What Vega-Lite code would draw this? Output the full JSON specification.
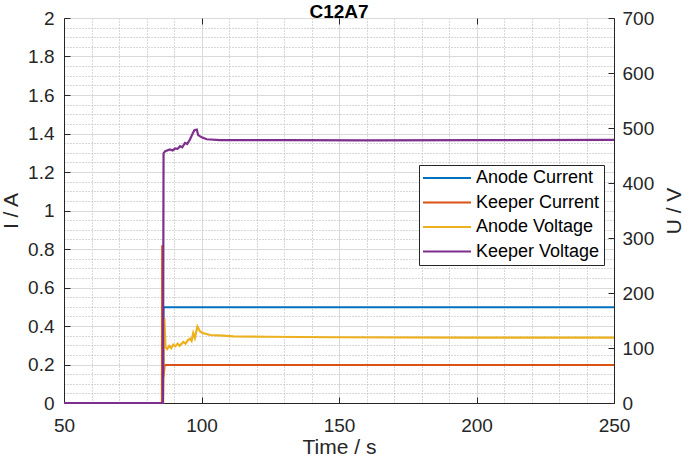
{
  "$schema": "https://vega.github.io/schema/vega-lite/v6.json",
  "width": 550,
  "height": 385,
  "autosize": {"type": "none"},
  "padding": {"left": 64, "top": 18, "right": 71, "bottom": 58},
  "background": "white",
  "title": {"text": "C12A7", "font": "Liberation Sans", "fontSize": 19, "fontWeight": "bold", "color": "#000000", "offset": -13, "frame": "group", "anchor": "middle"},
  "config": {
    "font": "Liberation Sans",
    "view": {"stroke": "#262626", "strokeWidth": 1},
    "axis": {
      "labelFont": "Liberation Sans",
      "labelFontSize": 19,
      "labelColor": "#262626",
      "titleFont": "Liberation Sans",
      "titleFontSize": 21,
      "titleFontWeight": "normal",
      "titleColor": "#262626",
      "domainColor": "#262626",
      "tickColor": "#262626",
      "labelOverlap": false,
      "labelFlush": false
    },
    "legend": {
      "orient": "none",
      "legendX": 355,
      "legendY": 147,
      "title": null,
      "labelFont": "Liberation Sans",
      "labelFontSize": 18,
      "labelColor": "#000000",
      "strokeColor": "#262626",
      "fillColor": "#ffffff",
      "padding": 4,
      "rowPadding": 6.5,
      "symbolType": "M-1.8,0H7.8",
      "symbolSize": 100,
      "symbolStrokeWidth": 2,
      "labelOffset": 35
    }
  },
  "data": {
    "values": [
      {"t": 50, "s": "Anode Current", "v": 0},
      {"t": 86.0, "s": "Anode Current", "v": 0},
      {"t": 86.2, "s": "Anode Current", "v": 0.497},
      {"t": 120, "s": "Anode Current", "v": 0.498},
      {"t": 170, "s": "Anode Current", "v": 0.497},
      {"t": 250, "s": "Anode Current", "v": 0.497},
      {"t": 50, "s": "Keeper Current", "v": 0},
      {"t": 85.6, "s": "Keeper Current", "v": 0},
      {"t": 85.7, "s": "Keeper Current", "v": 0.82},
      {"t": 86.2, "s": "Keeper Current", "v": 0.135},
      {"t": 86.6, "s": "Keeper Current", "v": 0.197},
      {"t": 150, "s": "Keeper Current", "v": 0.197},
      {"t": 250, "s": "Keeper Current", "v": 0.197},
      {"t": 50, "s": "Anode Voltage", "v": 0},
      {"t": 86.0, "s": "Anode Voltage", "v": 0},
      {"t": 86.2, "s": "Anode Voltage", "v": 100},
      {"t": 86.5, "s": "Anode Voltage", "v": 154},
      {"t": 86.9, "s": "Anode Voltage", "v": 102},
      {"t": 87.5, "s": "Anode Voltage", "v": 98},
      {"t": 88.3, "s": "Anode Voltage", "v": 104},
      {"t": 89, "s": "Anode Voltage", "v": 100},
      {"t": 89.7, "s": "Anode Voltage", "v": 106},
      {"t": 90.5, "s": "Anode Voltage", "v": 103},
      {"t": 91.3, "s": "Anode Voltage", "v": 108},
      {"t": 92, "s": "Anode Voltage", "v": 104},
      {"t": 93.4, "s": "Anode Voltage", "v": 111},
      {"t": 94.2, "s": "Anode Voltage", "v": 108},
      {"t": 95, "s": "Anode Voltage", "v": 114},
      {"t": 95.8, "s": "Anode Voltage", "v": 117},
      {"t": 96.4, "s": "Anode Voltage", "v": 113},
      {"t": 97, "s": "Anode Voltage", "v": 127},
      {"t": 97.6, "s": "Anode Voltage", "v": 118},
      {"t": 98.5, "s": "Anode Voltage", "v": 139},
      {"t": 99.5, "s": "Anode Voltage", "v": 130},
      {"t": 100.5, "s": "Anode Voltage", "v": 127},
      {"t": 101.9, "s": "Anode Voltage", "v": 125.5},
      {"t": 103.1, "s": "Anode Voltage", "v": 123.6},
      {"t": 107.9, "s": "Anode Voltage", "v": 122.4},
      {"t": 111.6, "s": "Anode Voltage", "v": 121.2},
      {"t": 123.7, "s": "Anode Voltage", "v": 120.5},
      {"t": 147.8, "s": "Anode Voltage", "v": 119.5},
      {"t": 196.4, "s": "Anode Voltage", "v": 118.8},
      {"t": 250, "s": "Anode Voltage", "v": 118.8},
      {"t": 50, "s": "Keeper Voltage", "v": 0},
      {"t": 86.0, "s": "Keeper Voltage", "v": 0},
      {"t": 86.2, "s": "Keeper Voltage", "v": 454},
      {"t": 86.8, "s": "Keeper Voltage", "v": 458},
      {"t": 88.5, "s": "Keeper Voltage", "v": 461},
      {"t": 89.5, "s": "Keeper Voltage", "v": 459},
      {"t": 90.4, "s": "Keeper Voltage", "v": 463},
      {"t": 91.3, "s": "Keeper Voltage", "v": 462},
      {"t": 92.2, "s": "Keeper Voltage", "v": 467},
      {"t": 93, "s": "Keeper Voltage", "v": 465},
      {"t": 94, "s": "Keeper Voltage", "v": 473},
      {"t": 94.8, "s": "Keeper Voltage", "v": 471},
      {"t": 95.8, "s": "Keeper Voltage", "v": 479},
      {"t": 96.8, "s": "Keeper Voltage", "v": 490},
      {"t": 97.4, "s": "Keeper Voltage", "v": 496},
      {"t": 98.3, "s": "Keeper Voltage", "v": 497},
      {"t": 98.8, "s": "Keeper Voltage", "v": 487},
      {"t": 100.1, "s": "Keeper Voltage", "v": 483},
      {"t": 101.9, "s": "Keeper Voltage", "v": 479.5},
      {"t": 106.7, "s": "Keeper Voltage", "v": 478},
      {"t": 130, "s": "Keeper Voltage", "v": 478},
      {"t": 160, "s": "Keeper Voltage", "v": 477.5},
      {"t": 200, "s": "Keeper Voltage", "v": 478},
      {"t": 250, "s": "Keeper Voltage", "v": 478.5}
    ]
  },
  "layer": [
    {
      "transform": [{"filter": "datum.s === 'Anode Current' || datum.s === 'Keeper Current'"}],
      "mark": {"type": "line", "strokeWidth": 2},
      "encoding": {
        "x": {
          "field": "t", "type": "quantitative",
          "scale": {"domain": [50, 250], "nice": false, "zero": false},
          "axis": {
            "orient": "bottom",
            "title": "Time / s",
            "values": [50,60,70,80,90,100,110,120,130,140,150,160,170,180,190,200,210,220,230,240,250],
            "labelExpr": "datum.value % 50 === 0 ? datum.label : ''",
            "grid": true,
            "gridColor": {"condition": {"test": "datum.value % 50 === 0", "value": "#dadada"}, "value": "#b0b0b0"},
            "gridDash": {"condition": {"test": "datum.value % 50 === 0", "value": []}, "value": [1, 2]},
            "tickOpacity": {"condition": {"test": "datum.value % 50 === 0", "value": 1}, "value": 0},
            "tickSize": -6,
            "labelPadding": 19,
            "titlePadding": 1
          }
        },
        "y": {
          "field": "v", "type": "quantitative",
          "scale": {"domain": [0, 2], "nice": false},
          "axis": {
            "orient": "left",
            "title": "I / A",
            "values": [0,0.05,0.1,0.15,0.2,0.25,0.3,0.35,0.4,0.45,0.5,0.55,0.6,0.65,0.7,0.75,0.8,0.85,0.9,0.95,1,1.05,1.1,1.15,1.2,1.25,1.3,1.35,1.4,1.45,1.5,1.55,1.6,1.65,1.7,1.75,1.8,1.85,1.9,1.95,2],
            "labelExpr": "abs(datum.value*5 - round(datum.value*5)) < 0.001 ? format(datum.value, '~g') : ''",
            "grid": true,
            "gridColor": {"condition": {"test": "abs(datum.value*5 - round(datum.value*5)) < 0.001", "value": "#dadada"}, "value": "#b0b0b0"},
            "gridDash": {"condition": {"test": "abs(datum.value*5 - round(datum.value*5)) < 0.001", "value": []}, "value": [1, 2]},
            "tickOpacity": {"condition": {"test": "abs(datum.value*5 - round(datum.value*5)) < 0.001", "value": 1}, "value": 0},
            "tickSize": -6,
            "labelPadding": 16,
            "titlePadding": 6
          }
        },
        "color": {
          "field": "s", "type": "nominal",
          "scale": {"domain": ["Anode Current", "Keeper Current", "Anode Voltage", "Keeper Voltage"], "range": ["#0072BD", "#D95319", "#EDB120", "#7E2F8E"]},
          "legend": {"title": null}
        }
      }
    },
    {
      "transform": [{"filter": "datum.s === 'Anode Voltage' || datum.s === 'Keeper Voltage'"}],
      "mark": {"type": "line", "strokeWidth": 2.2},
      "encoding": {
        "x": {
          "field": "t", "type": "quantitative",
          "scale": {"domain": [50, 250], "nice": false, "zero": false},
          "axis": {
            "orient": "top",
            "title": null,
            "values": [100, 150, 200],
            "labels": false,
            "grid": false,
            "tickSize": -6,
            "domain": false
          }
        },
        "y": {
          "field": "v", "type": "quantitative",
          "scale": {"domain": [0, 700], "nice": false},
          "axis": {
            "orient": "right",
            "title": "U / V",
            "titleAngle": 270,
            "titleBaseline": "top",
            "values": [0, 100, 200, 300, 400, 500, 600, 700],
            "grid": false,
            "tickSize": -6,
            "labelPadding": 14,
            "titlePadding": 10
          }
        },
        "color": {"field": "s", "type": "nominal"}
      }
    }
  ],
  "resolve": {"scale": {"y": "independent"}, "axis": {"x": "independent"}}
}
